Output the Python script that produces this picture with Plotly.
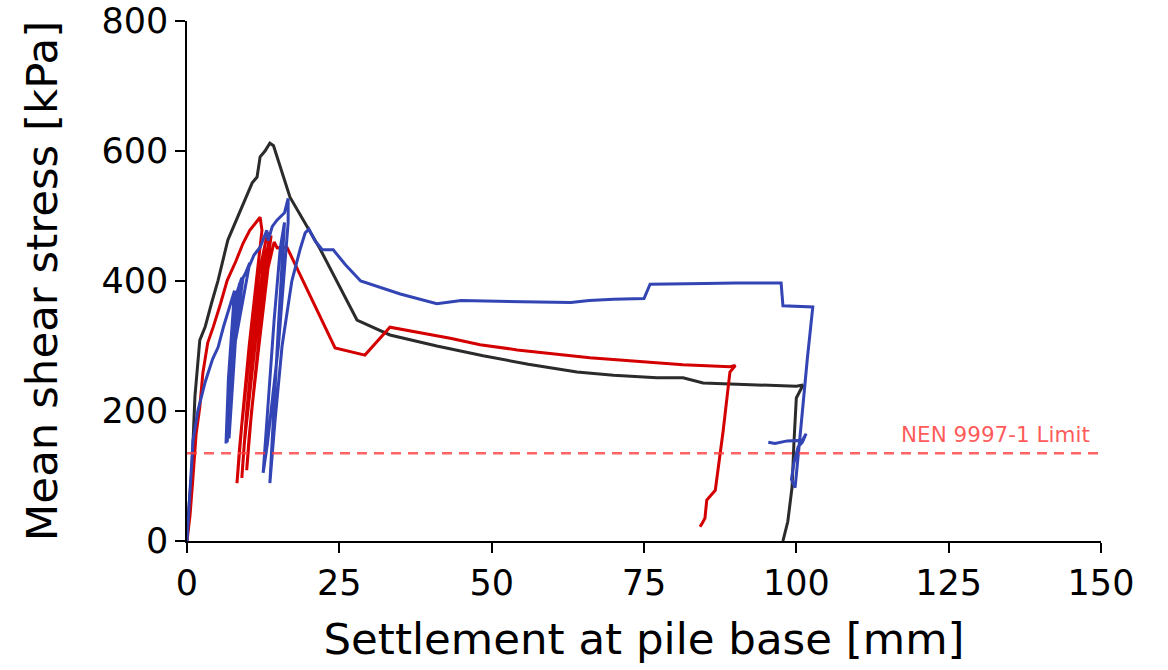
import plotly.graph_objects as go

# Settlement [mm] vs mean shear stress [kPa] for three pile tests
black_x = [0, 0.3, 0.8, 1.3, 2.1, 3.0, 4.0, 5.1, 6.7, 9.0, 10.7, 11.5, 12.0, 12.8, 13.6, 14.2,
           16.9, 21.8, 25.1, 27.9, 33.3, 41.0, 48.6, 56.0, 64.0, 70.0, 77.1, 81.4, 84.7, 92.4,
           100.0, 101.1, 100.0, 99.6, 99.3, 98.6, 97.8]
black_y = [0, 50, 109, 222, 309, 330, 365, 401, 463, 514, 551, 560, 591, 600, 612, 608,
           529, 450, 391, 340, 317, 300, 285, 272, 260, 255, 251, 251, 243, 240,
           238, 240, 220, 150, 83, 30, 0]

red_x = [0, 0.5, 1.0, 1.5, 2.1, 2.6, 3.4, 4.3, 5.5, 6.6, 8.0, 9.2, 10.3, 11.2, 12.0, 12.3,
         10.2, 8.6, 8.2, 9.0, 10.4, 11.8, 13.0, 13.6,
         11.4, 9.4, 9.0, 9.8, 11.2, 12.6, 13.8,
         12.0, 10.2, 9.8, 10.6, 11.8, 13.3, 14.3, 14.8, 16.4, 18.0, 24.3, 29.2, 33.3,
         43.2, 48.1, 54.2, 66.1, 81.4, 89.1, 90.0, 89.1, 88.0, 86.7, 85.3, 85.0, 84.6, 84.2]
red_y = [0, 40, 100, 165, 206, 258, 305, 329, 365, 401, 430, 458, 478, 488, 498, 478,
         300, 140, 89, 180, 300, 410, 465, 474,
         320, 150, 97, 200, 330, 430, 470,
         330, 160, 109, 200, 300, 420, 460, 451, 452, 421, 297, 286, 329,
         312, 302, 294, 282, 271, 268, 270, 260, 170, 78, 63, 35, 28, 22]

blue_x = [0, 0.3, 1.0, 1.8, 3.0, 4.2, 5.1, 6.0, 7.1, 7.8,
          6.8, 6.4, 6.7, 7.3, 8.1, 9.0,
          7.2, 6.6, 6.9, 7.6, 8.6, 9.6, 10.3,
          7.8, 6.9, 7.3, 8.1, 9.2, 10.0, 11.0, 12.0, 13.1, 13.3, 14.0, 14.8, 16.0, 16.6, 16.6, 16.6,
          15.0, 13.2, 12.5, 13.2, 14.3, 15.3, 16.0,
          15.0, 14.0, 13.6, 14.4, 15.6, 17.2, 18.6, 19.4, 20.0, 21.0, 22.2, 24.0, 26.0, 28.5,
          35.0, 41.0, 45.0, 55.0, 63.0, 66.0, 70.0, 75.0, 76.0, 85.0, 90.0, 97.5, 97.8, 102.7,
          101.8, 100.8, 99.8, 99.2, 99.6, 100.3, 101.0, 101.6, 101.0, 98.5, 96.5, 95.4]
blue_y = [0, 50, 155, 201, 245, 280, 298, 330, 366, 385,
          250, 150, 190, 300, 380, 405,
          260, 152, 200, 310, 395, 412, 428,
          300, 158, 220, 330, 405, 418, 440, 452, 478, 462, 484, 494, 505, 527, 505, 490,
          300, 150, 105, 200, 340, 450, 490,
          330, 150, 89, 180, 300, 400, 450, 474, 480, 462, 448, 448, 425, 400,
          380, 365, 370, 368, 367, 370, 372, 373, 395, 396, 397, 397, 362, 360,
          280, 180, 82, 95, 120, 145, 152, 165, 155, 154, 150, 152]

x_ticks = [0, 25, 50, 75, 100, 125, 150]
y_ticks = [0, 200, 400, 600, 800]

limit_value = 135
limit_label = "NEN 9997-1 Limit"

fig = go.Figure()

fig.add_trace(go.Scatter(x=black_x, y=black_y, mode="lines",
                         line=dict(color="#2b2b2b", width=3), showlegend=False))
fig.add_trace(go.Scatter(x=red_x, y=red_y, mode="lines",
                         line=dict(color="#d40000", width=3), showlegend=False))
fig.add_trace(go.Scatter(x=blue_x, y=blue_y, mode="lines",
                         line=dict(color="#3344b4", width=3), showlegend=False))

# Design limit line with label
fig.add_trace(go.Scatter(x=[0, 150], y=[limit_value, limit_value], mode="lines",
                         line=dict(color="rgba(255,60,60,0.8)", width=2.4, dash="10px,7px"),
                         showlegend=False))
fig.add_annotation(x=148.5, y=limit_value, yshift=4, text=limit_label,
                   showarrow=False, xanchor="right", yanchor="bottom",
                   font=dict(family="DejaVu Sans", size=21.5, color="rgba(255,60,60,0.85)"))

axis_common = dict(
    showgrid=False, zeroline=False, showline=True, linecolor="black", linewidth=1.6,
    ticks="outside", ticklen=10, tickwidth=1.6, tickcolor="black",
    tickfont=dict(family="DejaVu Sans", size=35, color="black"),
    mirror=False, automargin=False,
)

fig.update_xaxes(range=[0, 150], tickvals=x_ticks,
                 title=dict(text="Settlement at pile base [mm]",
                            font=dict(family="DejaVu Sans", size=43.5, color="black"),
                            standoff=22),
                 **axis_common)
fig.update_yaxes(range=[0, 800], tickvals=y_ticks,
                 title=dict(text="Mean shear stress [kPa]",
                            font=dict(family="DejaVu Sans", size=43.5, color="black"),
                            standoff=30),
                 **axis_common)

fig.update_layout(
    width=1168, height=670,
    margin=dict(l=187, r=67, t=21, b=129),
    plot_bgcolor="white", paper_bgcolor="white",
)

fig.write_html("out.html")
